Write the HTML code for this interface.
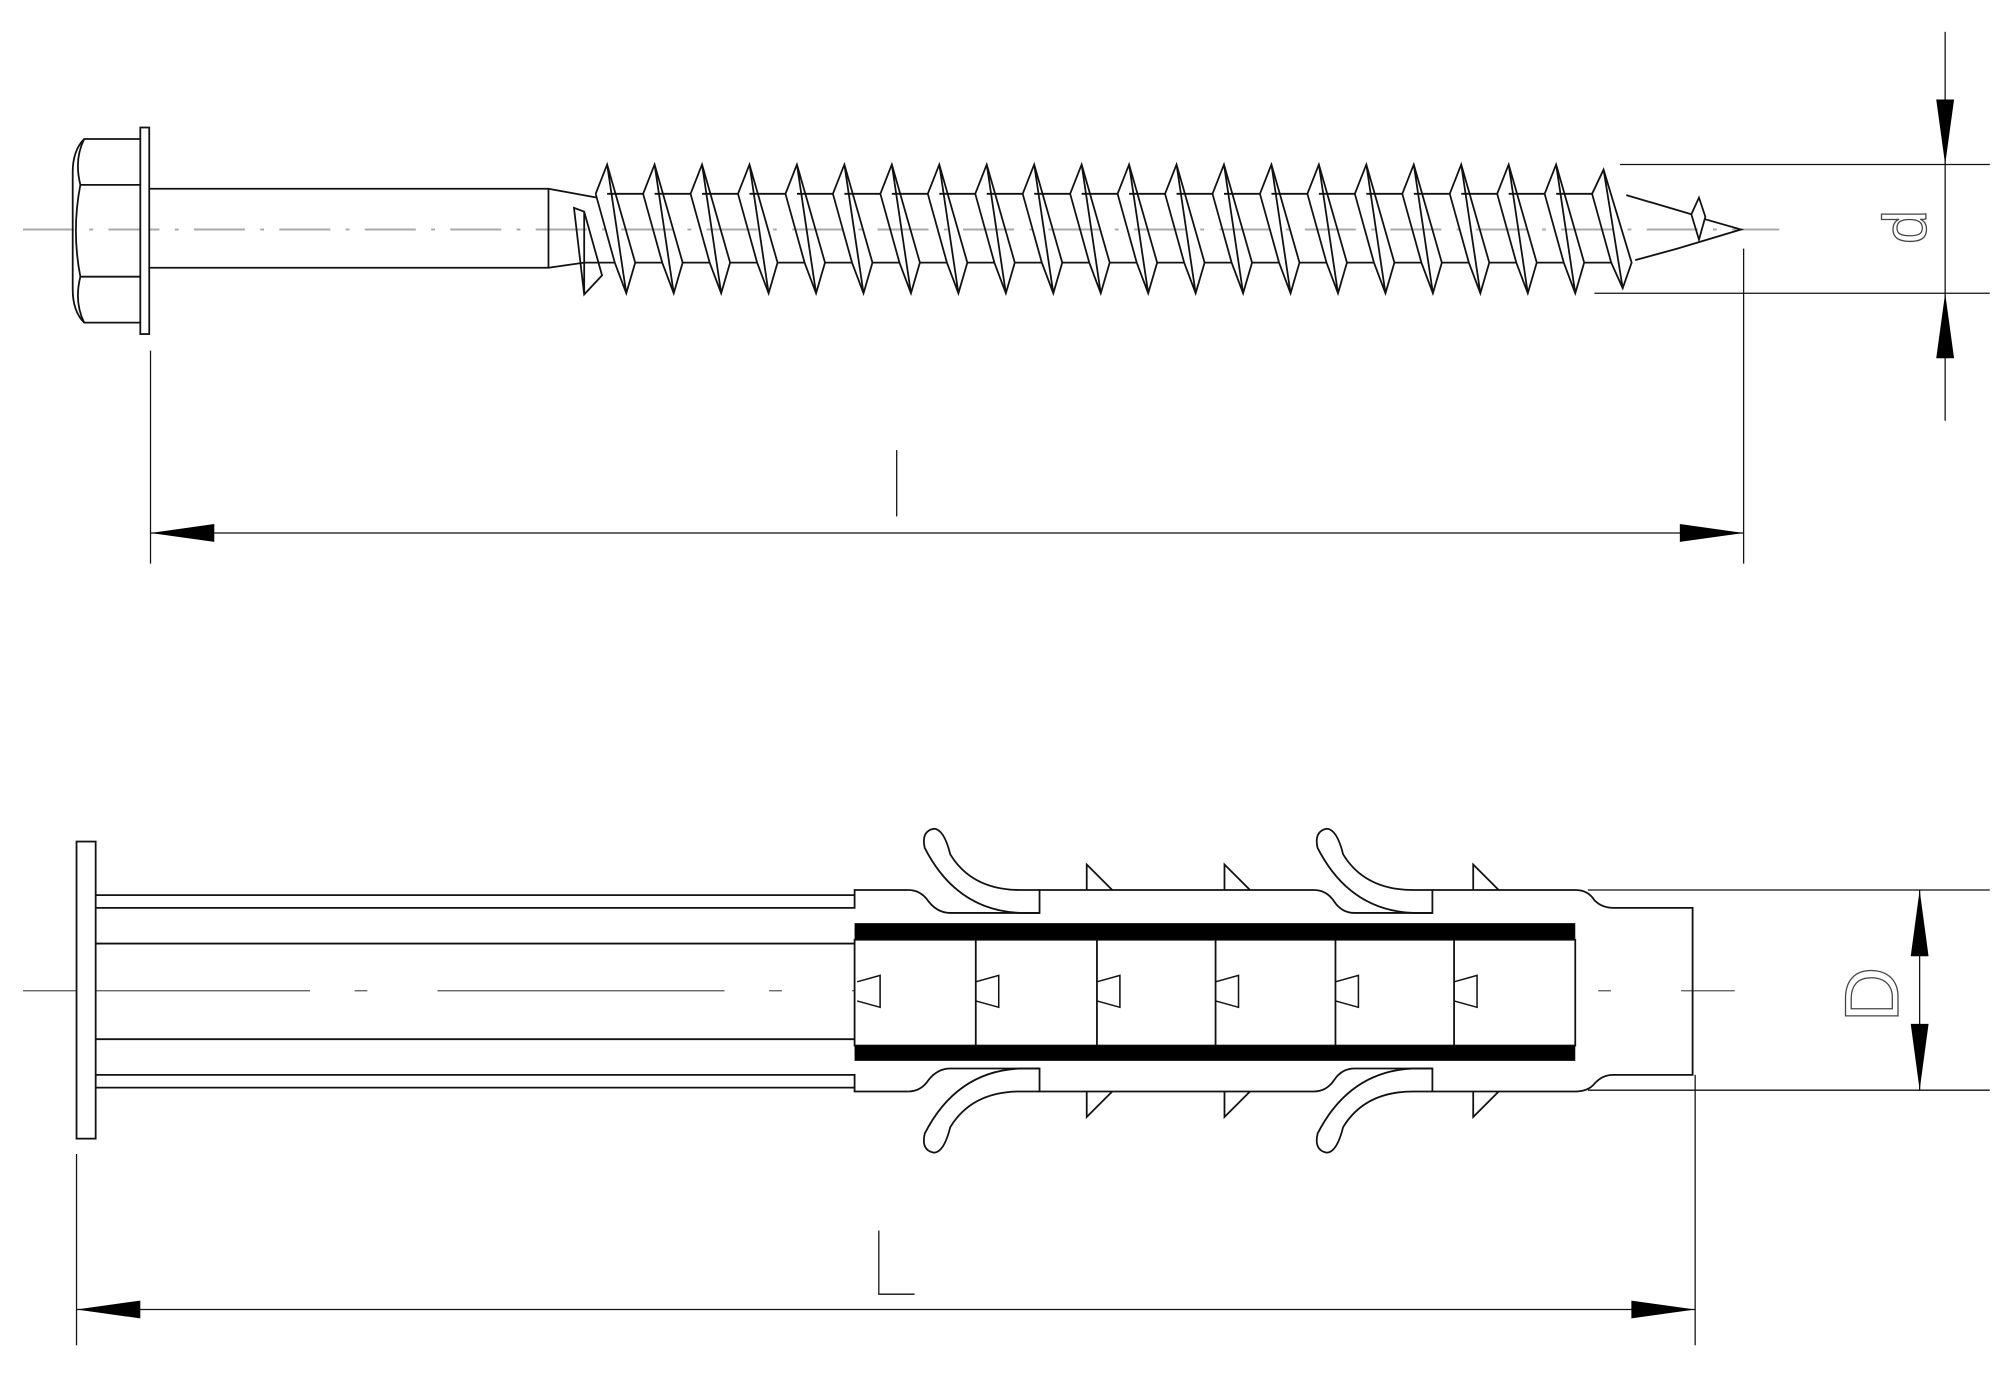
<!DOCTYPE html>
<html><head><meta charset="utf-8"><style>html,body{margin:0;padding:0;background:#fff}svg{display:block}</style></head>
<body>
<svg id="s" width="2000" height="1386" viewBox="0 0 1568 1087" preserveAspectRatio="none" xmlns="http://www.w3.org/2000/svg">
<g fill="none" stroke="#111" stroke-width="1.4">
<line x1="18" y1="180" x2="1395" y2="180" stroke="#aaa" stroke-width="1.5" stroke-dasharray="40,12,3,12"/>
<path d="M110,109 H66 Q57,118 57,135 V227 Q57,244 66,253 H110"/>
<path d="M110,145 H63 M110,217 H63 M63,145 Q56,181 63,217 M66,109 Q58,125 63,145 M66,253 Q58,237 63,217"/>
<rect x="110" y="100" width="7" height="162" fill="#fff"/>
<path d="M117,148 H430 V210 H117 M430,148 L468,155 M430,210 L458,206"/>
<g id="teeth"></g>
<path d="M1275,153 L1326,168 M1282,204 L1315,195 M1326,168 L1332,155 L1337,170 L1332,188 Z M1337,172 L1365,180 L1315,195"/>
<line x1="1270" y1="129" x2="1560" y2="129" stroke-width="1"/>
<line x1="1250" y1="230" x2="1560" y2="230" stroke-width="1"/>
<line x1="1525" y1="25" x2="1525" y2="330" stroke-width="1"/>
<line x1="1367" y1="195" x2="1367" y2="442" stroke-width="1"/>
<line x1="118" y1="275" x2="118" y2="442" stroke-width="1"/>
<line x1="118" y1="418" x2="1367" y2="418" stroke-width="1"/>
<line x1="703" y1="353" x2="703" y2="405" stroke-width="1"/>
</g>
<g fill="#000">
<polygon points="1525,129 1518,78 1532,78"/>
<polygon points="1525,230 1518,281 1532,281"/>
<polygon points="118,418 168,411 168,425"/>
<polygon points="1367,418 1317,411 1317,425"/>
</g>
<text x="0" y="0" transform="translate(1510,178) rotate(-90)" font-family="Liberation Sans, sans-serif" font-size="48" fill="#fff" stroke="#444" stroke-width="1" text-anchor="middle">d</text>

<g fill="none" stroke="#111" stroke-width="1.4">
<line x1="18" y1="777" x2="1360" y2="777" stroke="#555" stroke-width="1" stroke-dasharray="225,35,10,55"/>
<rect x="60" y="660" width="15" height="233" fill="#fff"/>
<path d="M75,702 H670 M75,712 H670 V698 H712 M75,740 H670 M75,815 H670 M75,843 H670 V856 H712 M75,853 H670"/>
<path d="M712,698 Q722,698 728,707 Q735,716 745,716 H815 V698 H1030 Q1040,698 1046,707 Q1052,716 1062,716 H1123 V698 H1235 Q1245,698 1250,706 Q1256,712 1265,712 H1327 V843 H1265 Q1256,843 1250,850 Q1245,856 1235,856 H1123 V838 H1062 Q1052,838 1046,847 Q1040,856 1030,856 H815 V838 H745 Q735,838 728,847 Q722,856 712,856"/>
<line x1="1245" y1="698" x2="1560" y2="698" stroke-width="1"/>
<line x1="1245" y1="855" x2="1560" y2="855" stroke-width="1"/>
<path d="M815,716 H800 Q750,714 725,665 Q722,652 732,650 Q740,650 745,670 Q762,698 800,698 H815"/>
<path d="M1123,716 H1108 Q1058,714 1033,665 Q1030,652 1040,650 Q1048,650 1053,670 Q1070,698 1108,698 H1123"/>
<path d="M815,838 H800 Q750,840 725,889 Q722,902 732,904 Q740,904 745,884 Q762,856 800,856 H815"/>
<path d="M1123,838 H1108 Q1058,840 1033,889 Q1030,902 1040,904 Q1048,904 1053,884 Q1070,856 1108,856 H1123"/>
<path d="M852,698 V678 L872,698 M960,698 V678 L980,698 M1155,698 V678 L1175,698"/>
<path d="M852,856 V876 L872,856 M960,856 V876 L980,856 M1155,856 V876 L1175,856"/>
<rect x="670" y="737" width="565" height="83" fill="#fff"/>
<path d="M765,737 V820 M860,737 V820 M953,737 V820 M1047,737 V820 M1140,737 V820"/>
<path d="M672,770 L690,765 V790 L672,785 M765,770 L783,765 V790 L765,785 M860,770 L878,765 V790 L860,785 M953,770 L971,765 V790 L953,785 M1047,770 L1065,765 V790 L1047,785 M1140,770 L1158,765 V790 L1140,785" stroke-width="1.2"/>
<line x1="1329" y1="843" x2="1329" y2="1055" stroke-width="1"/>
<line x1="60" y1="905" x2="60" y2="1055" stroke-width="1"/>
<line x1="60" y1="1027" x2="1329" y2="1027" stroke-width="1"/>
<line x1="1505" y1="698" x2="1505" y2="855" stroke-width="1"/>
<path d="M689,965 V1015 H717" stroke-width="1"/>
</g>
<g fill="#000">
<rect x="670" y="724" width="565" height="13"/>
<rect x="670" y="820" width="565" height="12"/>
<polygon points="1505,698 1498,750 1512,750"/>
<polygon points="1505,855 1498,803 1512,803"/>
<polygon points="60,1027 110,1020 110,1034"/>
<polygon points="1329,1027 1279,1020 1279,1034"/>
</g>
<text x="0" y="0" transform="translate(1488,780) rotate(-90)" font-family="Liberation Sans, sans-serif" font-size="60" fill="#fff" stroke="#444" stroke-width="1" text-anchor="middle">D</text>
</svg>
<script>
var g=document.getElementById('teeth'),h='',P=37.2;
h+='<path d="M450,163 L458,166 L472,216 L458,231 Z M458,166 L458,231"/>';
for(var i=0;i<22;i++){
 var a=476+i*P, t=129, b=230, c1=152, c2=206;
 if(i==21){t=133;b=226;}
 h+='<path d="M'+(a-9)+','+c1+' L'+a+','+t+' L'+(a+22)+','+c2+' L'+(a+15)+','+b+' L'+(a+6)+','+c2+' M'+a+','+t+' L'+(a+15)+','+b+' M'+(a-9)+','+c1+' L'+(a+6)+','+c2+'"/>';
 if(i<21){
  h+='<line x1="'+a+'" y1="'+c1+'" x2="'+(a+P-9)+'" y2="'+c1+'"/>';
  h+='<line x1="'+(a+22)+'" y1="'+c2+'" x2="'+(a+P+6)+'" y2="'+c2+'"/>';
 }
}
h+='<line x1="458" y1="206" x2="482" y2="206"/>';
g.innerHTML=h;
</script>
</body></html>
